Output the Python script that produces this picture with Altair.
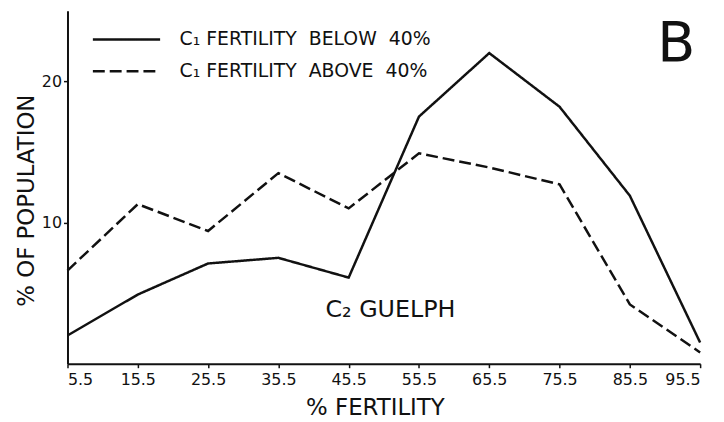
import altair as alt
import pandas as pd

fertility = [5.5, 15.5, 25.5, 35.5, 45.5, 55.5, 65.5, 75.5, 85.5, 95.5]
below_40 = [2.0, 4.9, 7.1, 7.5, 6.1, 17.5, 22.0, 18.2, 11.9, 1.5]
above_40 = [6.6, 11.3, 9.4, 13.5, 11.0, 14.9, 13.9, 12.7, 4.2, 0.8]
series_names = ["C\u2081 FERTILITY\u00a0\u00a0BELOW\u00a0\u00a040%",
                "C\u2081 FERTILITY\u00a0\u00a0ABOVE\u00a0\u00a040%"]
y_ticks = [10, 20]

rows = []
for name, vals in zip(series_names, [below_40, above_40]):
    for xv, yv in zip(fertility, vals):
        rows.append({"fert": xv, "pct": yv, "series": name})
df = pd.DataFrame(rows)

FONT = "DejaVu Sans"

xscale = alt.Scale(domain=[5.5, 95.5], nice=False, zero=False)
yscale = alt.Scale(domain=[0, 25], nice=False)

lines = alt.Chart(df).mark_line(strokeWidth=2.5, color="#111").encode(
    x=alt.X("fert:Q", scale=xscale,
            axis=alt.Axis(values=fertility, format=".1f", title="% FERTILITY",
                          titleX=310, titleY=44, titleBaseline="middle",
                          tickSize=4, labelPadding=4, labelFontSize=16,
                          titleFontSize=23, titleFontWeight="normal")),
    y=alt.Y("pct:Q", scale=yscale,
            axis=alt.Axis(values=y_ticks, title="% OF POPULATION",
                          titleX=-41, titleY=191, titleAngle=-90,
                          titleBaseline="middle", titleAlign="center",
                          tickSize=4, labelPadding=2, labelFontSize=16,
                          titleFontSize=23, titleFontWeight="normal")),
    strokeDash=alt.StrokeDash(
        "series:N",
        scale=alt.Scale(domain=series_names, range=[[1, 0], [12, 5]]),
        legend=alt.Legend(title=None, orient="none", legendX=24, legendY=21,
                          symbolType="stroke", symbolSize=4600,
                          symbolStrokeWidth=2.5, symbolStrokeColor="#111",
                          labelFontSize=19, labelFont=FONT, labelColor="#111",
                          labelOffset=18, labelLimit=0, clipHeight=16,
                          rowPadding=13, padding=0),
    ),
    detail="series:N",
)

ann_df = pd.DataFrame({"x": [42.2], "y": [3.3], "t": ["C\u2082 GUELPH"]})
ann = alt.Chart(ann_df).mark_text(align="left", baseline="alphabetic",
                                  fontSize=24, font=FONT, color="#111").encode(
    x=alt.X("x:Q", scale=xscale), y=alt.Y("y:Q", scale=yscale), text="t:N")

b_df = pd.DataFrame({"x": [92.1], "y": [22.6], "t": ["B"]})
btxt = alt.Chart(b_df).mark_text(align="center", baseline="middle",
                                 fontSize=56, font=FONT, color="#111").encode(
    x=alt.X("x:Q", scale=xscale), y=alt.Y("y:Q", scale=yscale), text="t:N")

chart = alt.layer(lines, ann, btxt).properties(
    width=638, height=356,
    autosize=alt.AutoSizeParams(type="none"),
    padding={"left": 60, "top": 1, "right": 16, "bottom": 56},
    background="white",
).configure_view(stroke=None).configure_axis(
    grid=False, domainColor="#111", domainWidth=2, tickColor="#111",
    tickWidth=1.5, labelColor="#111", titleColor="#111",
    labelFont=FONT, titleFont=FONT,
)

chart.save("out.html", embed_options={"renderer": "svg", "actions": False})
